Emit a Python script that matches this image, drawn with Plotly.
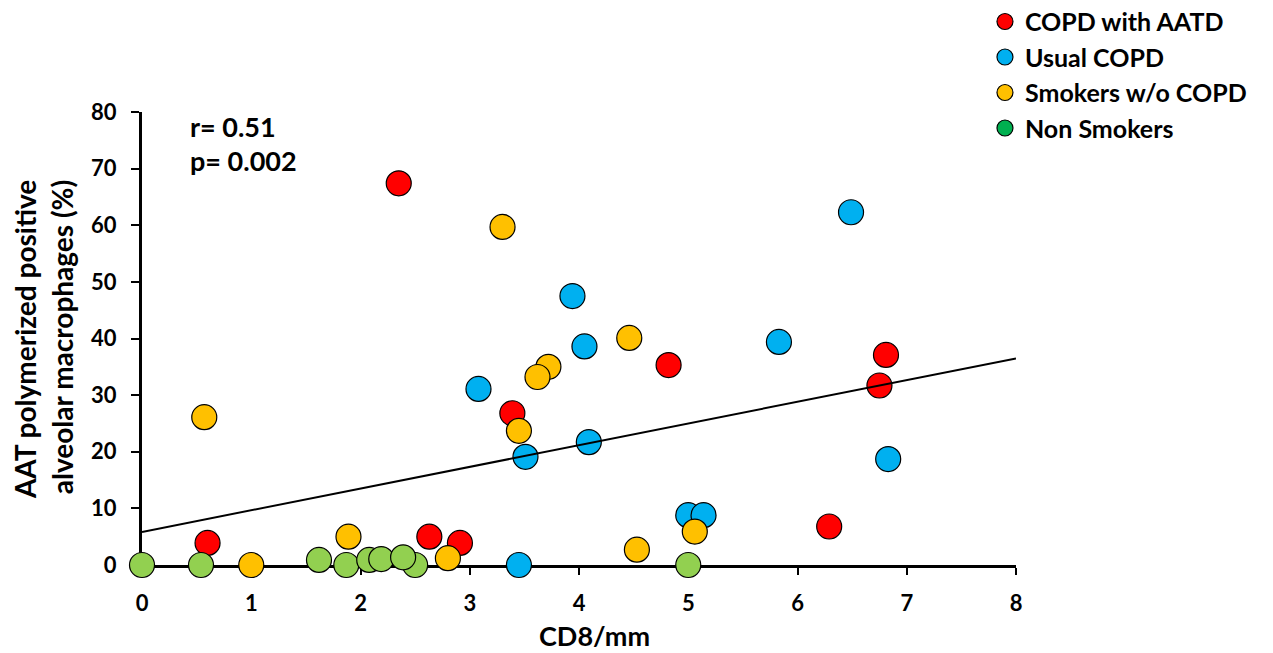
import plotly.graph_objects as go

# ---- data ----
aatd_x = [2.35, 0.60, 2.63, 2.91, 3.39, 4.82, 6.81, 6.75, 6.29]
aatd_y = [67.4, 3.9, 5.0, 3.9, 26.8, 35.3, 37.1, 31.7, 6.8]

usual_x = [6.49, 3.94, 4.05, 5.83, 3.08, 4.09, 3.51, 6.83, 5.00, 5.14, 3.45]
usual_y = [62.3, 47.5, 38.6, 39.4, 31.1, 21.7, 19.1, 18.7, 8.8, 8.8, 0.0]

smokers_x = [3.30, 0.57, 4.46, 3.72, 3.62, 3.45, 1.89, 1.00, 2.80, 4.53, 5.06]
smokers_y = [59.7, 26.1, 40.1, 35.0, 33.2, 23.7, 5.0, 0.0, 1.2, 2.7, 5.9]

non_x = [0.00, 0.54, 1.62, 1.87, 2.08, 2.19, 2.50, 2.39, 5.00]
non_y = [0.0, 0.0, 0.9, 0.0, 0.9, 1.05, 0.0, 1.35, 0.0]

trend_intercept = 5.84
trend_slope = 3.83
trend_x = [0, 8]

group_names = ["COPD with AATD", "Usual COPD", "Smokers w/o COPD", "Non Smokers"]
point_colors = ["#FF0000", "#00B0F0", "#FFC000", "#92D050"]
legend_colors = ["#FF0000", "#00B0F0", "#FFC000", "#00B050"]

x_ticks = [0, 1, 2, 3, 4, 5, 6, 7, 8]
y_ticks = [0, 10, 20, 30, 40, 50, 60, 70, 80]

FONT = "Lato"

fig = go.Figure()

series = [(aatd_x, aatd_y), (usual_x, usual_y), (smokers_x, smokers_y), (non_x, non_y)]
for (xs, ys), name, col in zip(series, group_names, point_colors):
    fig.add_trace(go.Scatter(
        x=xs, y=ys, mode="markers", name=name, showlegend=False,
        cliponaxis=False,
        marker=dict(size=25, color=col, line=dict(color="black", width=1.2)),
    ))

# trend line on top of markers
fig.add_trace(go.Scatter(
    x=trend_x, y=[trend_intercept + trend_slope * v for v in trend_x],
    mode="lines", showlegend=False, cliponaxis=False,
    line=dict(color="black", width=2),
))

# legend-only entries (legend swatch colours differ from point colours)
for name, col in zip(group_names, legend_colors):
    fig.add_trace(go.Scatter(
        x=[None], y=[None], mode="markers", name=name,
        marker=dict(size=22, color=col, line=dict(color="black", width=1.2)),
    ))

fig.update_layout(
    width=1273, height=653,
    margin=dict(l=142, r=257, t=112, b=88, autoexpand=False),
    paper_bgcolor="white", plot_bgcolor="white",
    font=dict(family=FONT, color="black"),
    legend=dict(
        x=0.9645, xanchor="left", y=1.250, yanchor="top",
        bgcolor="rgba(0,0,0,0)", itemsizing="trace",
        font=dict(family=FONT, size=25, color="black", weight="bold"),
        tracegroupgap=0, itemwidth=30,
    ),
    xaxis=dict(
        range=[0, 8], tickvals=x_ticks, ticktext=[str(v) for v in x_ticks],
        showline=True, linecolor="black", linewidth=3,
        ticks="outside", ticklen=7, tickwidth=2, tickcolor="black",
        showgrid=False, zeroline=False, layer="below traces",
        tickfont=dict(family=FONT, size=22, color="black", weight="bold"),
        ticklabelstandoff=10,
    ),
    yaxis=dict(
        range=[0, 80], tickvals=y_ticks, ticktext=[str(v) for v in y_ticks],
        showline=True, linecolor="black", linewidth=3,
        ticks="outside", ticklen=8, tickwidth=2, tickcolor="black",
        showgrid=False, zeroline=False, layer="below traces",
        tickfont=dict(family=FONT, size=22, color="black", weight="bold"),
        ticklabelstandoff=10,
    ),
)

fig.add_annotation(
    text="r= 0.51", xref="paper", yref="paper", x=0.0526, y=0.969,
    xanchor="left", yanchor="middle", showarrow=False,
    font=dict(family=FONT, size=27, color="black", weight="bold"),
)
fig.add_annotation(
    text="p= 0.002", xref="paper", yref="paper", x=0.0526, y=0.893,
    xanchor="left", yanchor="middle", showarrow=False,
    font=dict(family=FONT, size=27, color="black", weight="bold"),
)
fig.add_annotation(
    text="CD8/mm", xref="paper", yref="paper", x=0.518, y=-0.155,
    xanchor="center", yanchor="middle", showarrow=False,
    font=dict(family=FONT, size=27, color="black", weight="bold"),
)
fig.add_annotation(
    text="AAT polymerized positive<br>alveolar macrophages (%)",
    xref="paper", yref="paper", x=-0.113, y=0.497,
    xanchor="center", yanchor="middle", showarrow=False, textangle=-90,
    align="right",
    font=dict(family=FONT, size=28, color="black", weight="bold"),
)

fig.write_html(
    "out.html",
    config={"displayModeBar": False},
    post_script="document.body.style.margin='0px';",
)
